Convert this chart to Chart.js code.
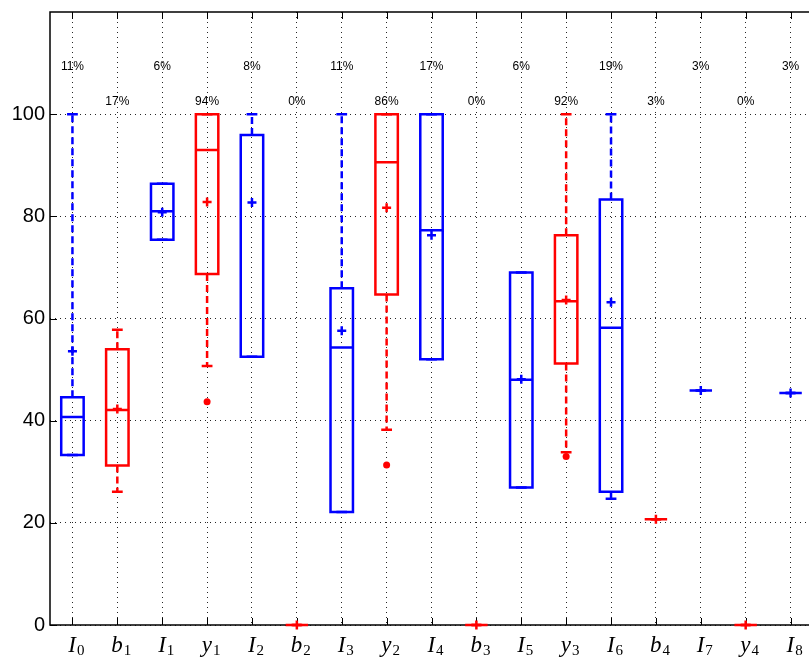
<!DOCTYPE html>
<html>
<head>
  <meta charset="UTF-8">
  <title>Boxplot</title>
  <style>
    body {
      margin: 0;
      background-color: #fff;
      overflow: hidden;
    }
    #grafica {
      display: block;
    }
  </style>
</head>
<body>
  <canvas id="grafica" width="820" height="658"></canvas>

  <script src="https://cdn.jsdelivr.net/npm/chart.js"></script>
  <script>
    // categorias (letra + subindice)
    var letras = ['I', 'b', 'I', 'y', 'I', 'b', 'I', 'y', 'I', 'b', 'I', 'y', 'I', 'b', 'I', 'y', 'I'];
    var subindices = ['0', '1', '1', '1', '2', '2', '3', '2', '4', '3', '5', '3', '6', '4', '7', '4', '8'];
    var porcentajes = ['11%', '17%', '6%', '94%', '8%', '0%', '11%', '86%', '17%', '0%', '6%', '92%', '19%', '3%', '3%', '0%', '3%'];

    // estadisticas de cada caja
    var bigoteInf = [33.3, 26.1, 75.4, 50.7, 52.5, 0, 22.1, 38.2, 52.0, 0, 26.9, 33.8, 24.7, 20.7, 45.9, 0, 45.4];
    var cuartil1  = [33.3, 31.2, 75.4, 68.7, 52.5, 0, 22.1, 64.7, 52.0, 0, 26.9, 51.2, 26.1, 20.7, 45.9, 0, 45.4];
    var mediana   = [40.7, 42.1, 81.0, 93.0, 95.9, 0, 54.3, 90.6, 77.3, 0, 48.0, 63.4, 58.2, 20.7, 45.9, 0, 45.4];
    var cuartil3  = [44.6, 54.0, 86.4, 100, 95.9, 0, 65.9, 100, 100, 0, 69.0, 76.3, 83.3, 20.7, 45.9, 0, 45.4];
    var bigoteSup = [100, 57.8, 86.4, 100, 100, 0, 100, 100, 100, 0, 69.0, 100, 100, 20.7, 45.9, 0, 45.4];
    var medias    = [53.6, 42.3, 80.8, 82.8, 82.7, 0, 57.6, 81.7, 76.3, 0, 48.1, 63.6, 63.2, 20.7, 45.9, 0, 45.4];

    // valores atipicos: [indice de categoria, valor]
    var atipicos = [[3, 43.7], [7, 31.3], [11, 33.0]];

    var ticksY = [0, 20, 40, 60, 80, 100];

    function colorDe(i) {
      return letras[i] === 'I' ? '#0000ff' : '#ff0000';
    }

    var datosMedias = medias.map(function (v, i) { return { x: i + 1, y: v }; });
    var coloresMedias = medias.map(function (v, i) { return colorDe(i); });
    var datosAtipicos = atipicos.map(function (a) { return { x: a[0] + 1, y: a[1] }; });
    var coloresAtipicos = atipicos.map(function (a) { return colorDe(a[0]); });

    // marco, ticks internos, cajas, textos
    var pluginCajas = {
      id: 'cajas',
      beforeDatasetsDraw: function (chart) {
        var ctx = chart.ctx;
        var a = chart.chartArea;
        var sx = chart.scales.x;
        var sy = chart.scales.y;
        ctx.save();
        ctx.strokeStyle = '#000';
        ctx.lineWidth = 1.5;
        ctx.beginPath();
        ctx.moveTo(a.left, a.top);
        ctx.lineTo(a.right, a.top);
        ctx.lineTo(a.right, a.bottom);
        ctx.lineTo(a.left, a.bottom);
        ctx.closePath();
        ctx.stroke();
        ctx.lineWidth = 1;
        ctx.beginPath();
        for (var i = 0; i < letras.length; i++) {
          var px = Math.round(sx.getPixelForValue(i + 1)) + 0.5;
          ctx.moveTo(px, a.top);
          ctx.lineTo(px, a.top + 7);
          ctx.moveTo(px, a.bottom);
          ctx.lineTo(px, a.bottom - 7);
        }
        ticksY.forEach(function (t) {
          var py = Math.round(sy.getPixelForValue(t)) + 0.5;
          ctx.moveTo(a.left, py);
          ctx.lineTo(a.left + 7, py);
        });
        ctx.stroke();
        ctx.restore();
      },
      afterDatasetsDraw: function (chart) {
        var ctx = chart.ctx;
        var sx = chart.scales.x;
        var sy = chart.scales.y;
        var a = chart.chartArea;
        var paso = sx.getPixelForValue(2) - sx.getPixelForValue(1);
        var medioCaja = paso * 0.25;
        var medioTapa = paso * 0.12;
        ctx.save();
        ctx.lineWidth = 2.5;
        for (var i = 0; i < letras.length; i++) {
          var cx = sx.getPixelForValue(i + 1);
          var c = colorDe(i);
          var y1 = sy.getPixelForValue(cuartil1[i]);
          var y3 = sy.getPixelForValue(cuartil3[i]);
          var ym = sy.getPixelForValue(mediana[i]);
          var yLo = sy.getPixelForValue(bigoteInf[i]);
          var yHi = sy.getPixelForValue(bigoteSup[i]);
          ctx.strokeStyle = c;
          // bigotes discontinuos
          ctx.setLineDash([7, 4]);
          ctx.beginPath();
          if (bigoteSup[i] > cuartil3[i]) {
            ctx.moveTo(cx, y3);
            ctx.lineTo(cx, yHi);
          }
          if (bigoteInf[i] < cuartil1[i]) {
            ctx.moveTo(cx, y1);
            ctx.lineTo(cx, yLo);
          }
          ctx.stroke();
          ctx.setLineDash([]);
          // tapas
          ctx.beginPath();
          ctx.moveTo(cx - medioTapa, yHi);
          ctx.lineTo(cx + medioTapa, yHi);
          ctx.moveTo(cx - medioTapa, yLo);
          ctx.lineTo(cx + medioTapa, yLo);
          ctx.stroke();
          // caja y mediana
          ctx.beginPath();
          ctx.rect(cx - medioCaja, y3, medioCaja * 2, y1 - y3);
          ctx.moveTo(cx - medioCaja, ym);
          ctx.lineTo(cx + medioCaja, ym);
          ctx.stroke();
        }
        ctx.restore();

        // porcentajes
        ctx.save();
        ctx.fillStyle = '#000';
        ctx.font = '12px "Liberation Sans", Arial, sans-serif';
        ctx.textAlign = 'center';
        ctx.textBaseline = 'middle';
        for (var j = 0; j < porcentajes.length; j++) {
          var nivel = j % 2 === 0 ? 109.2 : 102.4;
          ctx.fillText(porcentajes[j], sx.getPixelForValue(j + 1), sy.getPixelForValue(nivel));
        }
        ctx.restore();

        // etiquetas del eje x (estilo LaTeX)
        ctx.save();
        ctx.fillStyle = '#000';
        ctx.textBaseline = 'alphabetic';
        ctx.textAlign = 'left';
        var fPrin = 'italic 23px "Liberation Serif", "DejaVu Serif", serif';
        var fSub = '15px "Liberation Serif", "DejaVu Serif", serif';
        for (var k = 0; k < letras.length; k++) {
          ctx.font = fPrin;
          var w1 = ctx.measureText(letras[k]).width;
          ctx.font = fSub;
          var w2 = ctx.measureText(subindices[k]).width;
          var x0 = sx.getPixelForValue(k + 1) + 4 - (w1 + w2 + 1) / 2;
          ctx.font = fPrin;
          ctx.fillText(letras[k], x0, a.bottom + 27);
          ctx.font = fSub;
          ctx.fillText(subindices[k], x0 + w1 + 1, a.bottom + 30);
        }
        ctx.restore();
      }
    };

    var ctx = document.getElementById('grafica').getContext('2d');
    var myChart = new Chart(ctx, {
      type: 'scatter',
      data: {
        datasets: [{
          label: 'Media',
          data: datosMedias,
          pointStyle: 'cross',
          pointRadius: 4.5,
          pointBorderWidth: 2.5,
          borderColor: coloresMedias,
          pointBorderColor: coloresMedias,
          backgroundColor: coloresMedias,
          clip: false
        }, {
          label: 'Atipicos',
          data: datosAtipicos,
          pointStyle: 'circle',
          pointRadius: 3.5,
          pointBorderWidth: 0,
          pointBackgroundColor: coloresAtipicos,
          backgroundColor: coloresAtipicos,
          clip: false
        }]
      },
      options: {
        responsive: false,
        animation: false,
        events: [],
        layout: {
          padding: { top: 12, right: 5, left: 0, bottom: 0 }
        },
        plugins: {
          legend: { display: false },
          tooltip: { enabled: false }
        },
        scales: {
          x: {
            type: 'linear',
            min: 0.5,
            max: 17.5,
            afterBuildTicks: function (axis) {
              axis.ticks = letras.map(function (l, i) { return { value: i + 1 }; });
            },
            afterFit: function (axis) {
              axis.height = 33;
              axis.paddingLeft = 0;
              axis.paddingRight = 0;
            },
            ticks: { display: false },
            grid: {
              color: 'rgba(0,0,0,0.85)',
              lineWidth: 1,
              drawTicks: false
            },
            border: { display: false, dash: [1, 4] }
          },
          y: {
            min: 0,
            max: 120,
            afterBuildTicks: function (axis) {
              axis.ticks = ticksY.map(function (v) { return { value: v }; });
            },
            afterFit: function (axis) {
              axis.width = 50;
              axis.paddingTop = 0;
              axis.paddingBottom = 0;
            },
            ticks: {
              color: '#000',
              padding: 5,
              font: { family: '"Liberation Sans", Arial, sans-serif', size: 20 }
            },
            grid: {
              color: 'rgba(0,0,0,0.85)',
              lineWidth: 1,
              drawTicks: false
            },
            border: { display: false, dash: [1, 4] }
          }
        }
      },
      plugins: [pluginCajas]
    });
  </script>
</body>
</html>
